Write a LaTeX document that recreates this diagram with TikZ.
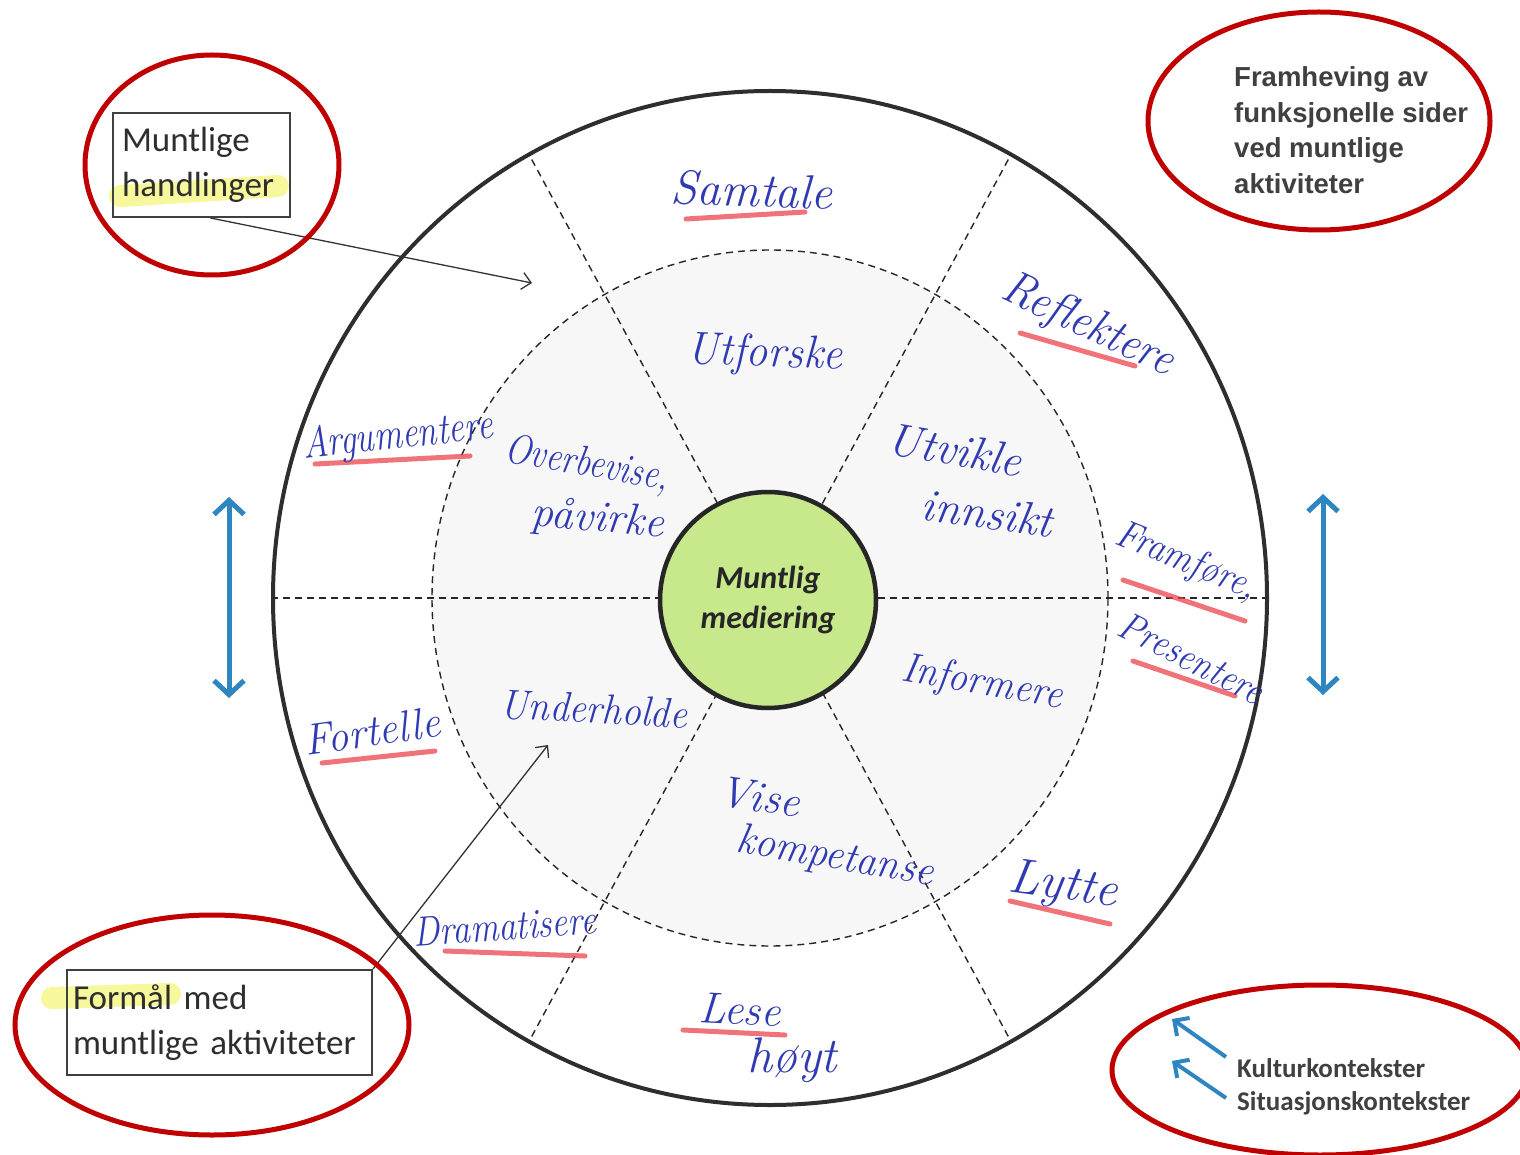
\documentclass[tikz,border=0pt]{standalone}
\usepackage{fontspec}
\newfontfamily\calib{Carlito}
\newfontfamily\arialf{Liberation Sans}
\usetikzlibrary{arrows.meta,calc}
\definecolor{ink}{RGB}{48,58,178}
\definecolor{redhl}{RGB}{236,62,72}
\definecolor{yelhl}{RGB}{242,242,90}
\definecolor{ringred}{RGB}{192,0,0}
\definecolor{arrblue}{RGB}{46,134,193}
\definecolor{txtgray}{RGB}{64,64,64}
\definecolor{midgreen}{RGB}{200,232,140}
\newcommand\hw[1]{\itshape\fontsize{#1}{#1}\selectfont}
\newcommand\sq[2]{\scalebox{#1}[1]{#2}}
\begin{document}
\begin{tikzpicture}[x=1pt,y=-1pt,
  outerring/.style={draw=black!82,line width=4pt},
  dashline/.style={draw=black!85,line width=1.4pt,dash pattern=on 7pt off 5pt},
  hand/.style={text=ink,inner sep=0pt},
  uline/.style={draw=redhl,line width=5pt,opacity=0.72,line cap=round},
  yline/.style={draw=yelhl,line width=22pt,opacity=0.6,line cap=round},
  ring/.style={draw=ringred,line width=5pt},
  box/.style={draw=black!75,line width=2pt,align=left,text=black!82,
    font=\calib\fontsize{35}{45}\selectfont,inner ysep=6pt},
  thinarrow/.style={draw=black!80,line width=1.3pt,-{Straight Barb[length=9pt,width=17pt]}},
  bluedbl/.style={draw=arrblue,line width=5pt,
    {Straight Barb[length=14pt,width=30pt]}-{Straight Barb[length=14pt,width=30pt]}},
  blueone/.style={draw=arrblue,line width=4pt,-{Straight Barb[length=11pt,width=22pt]}},
  ctxt/.style={text=txtgray,inner sep=0pt,anchor=west,font=\calib\bfseries\fontsize{27}{27}\selectfont},
  midc/.style={circle,draw=black!85,line width=4.5pt,fill=midgreen,minimum size=216pt,
    inner sep=0pt,align=center,text=black!85,
    font=\calib\bfseries\itshape\fontsize{32}{40}\selectfont}
]
\useasboundingbox[fill=white] (0,0) rectangle (1520,1155);
\coordinate (C) at (770,598);
% pencil shading of inner zone
\fill[black!3] (C) ellipse [x radius=338pt, y radius=348pt];
% outer ring and inner dashed ring
\draw[outerring] (C) ellipse [x radius=497pt, y radius=507pt];
\draw[dashline] (C) ellipse [x radius=338pt, y radius=348pt];
% radial dashed lines
\foreach \a in {0,61,119,180,241,299}
  \draw[dashline] ($(C)+(\a:108pt)$) -- ($(C)+(\a:497pt and 507pt)$);
% centre
\node[midc] (mid) at (768,600) {Muntlig\\mediering};

% red underlines (outer ring words)
\draw[uline] (686,219) -- (805,212);
\draw[uline] (1020,333) -- (1135,366);
\draw[uline] (315,464) -- (470,456);
\draw[uline] (1123,580) -- (1245,621);
\draw[uline] (1133,661) -- (1235,696);
\draw[uline] (322,763) -- (435,751);
\draw[uline] (1010,901) -- (1110,924);
\draw[uline] (445,951) -- (585,956);
\draw[uline] (683,1030) -- (785,1035);

% handwritten words - outer ring
\node[hand,font=\hw{48},rotate=-2] (samtale) at (752,190) {Samtale};
\node[hand,font=\hw{48},rotate=-25] (reflektere) at (1088,326) {\sq{0.92}{Reflektere}};
\node[hand,font=\hw{44},rotate=6] (argumentere) at (398,437) {\sq{0.8}{Argumentere}};
\node[hand,font=\hw{40},rotate=-22] (framfore) at (1186,562) {\sq{0.9}{Framføre,}};
\node[hand,font=\hw{40},rotate=-27] (presentere) at (1192,658) {\sq{0.88}{Presentere}};
\node[hand,font=\hw{44},rotate=8] (fortelle) at (372,731) {\sq{0.95}{Fortelle}};
\node[hand,font=\hw{50},rotate=-8] (lytte) at (1063,887) {Lytte};
\node[hand,font=\hw{42},rotate=4] (dramatisere) at (505,926) {\sq{0.84}{Dramatisere}};
\node[hand,font=\hw{44},rotate=-3] (lese) at (740,1010) {Lese};
\node[hand,font=\hw{50}] (hoyt) at (792,1060) {høyt};
% handwritten words - inner ring
\node[hand,font=\hw{46},rotate=-2] (utforske) at (765,355) {\sq{0.95}{Utforske}};
\node[hand,font=\hw{42},rotate=-10] (overbevise) at (587,465) {\sq{0.82}{Overbevise,}};
\node[hand,font=\hw{44},rotate=-5] (pavirke) at (598,520) {påvirke};
\node[hand,font=\hw{46},rotate=-10] (utvikle) at (955,450) {Utvikle};
\node[hand,font=\hw{46},rotate=-8] (innsikt) at (987,513) {innsikt};
\node[hand,font=\hw{42},rotate=-10] (informere) at (982,684) {\sq{0.92}{Informere}};
\node[hand,font=\hw{42},rotate=-3] (underholde) at (594,709) {\sq{0.92}{Underholde}};
\node[hand,font=\hw{44},rotate=-8] (vise) at (760,797) {Vise};
\node[hand,font=\hw{43},rotate=-10] (kompetanse) at (835,858) {\sq{0.95}{kompetanse}};

% top-left box
\draw[yline] (120,196) -- (278,186);
\node[box,inner xsep=9pt,text width=159pt,minimum width=177pt,minimum height=104pt]
  (box1) at (201.5,165) {Muntlige\\handlinger};
\coordinate (a1end) at (532,283);
\draw[thinarrow] ([xshift=9pt]box1.south) -- (a1end);
\draw[ring] (212,165) ellipse [x radius=127pt, y radius=110pt];

% bottom-left box
\draw[yline] (52,998) -- (170,994);
\node[box,inner xsep=6pt,text width=293pt,minimum width=305pt,minimum height=105pt]
  (box2) at (219.5,1022.5) {Formål med\\muntlige aktiviteter};
\coordinate (a2end) at (548,745);
\draw[thinarrow] (box2.north east) -- (a2end);
\draw[ring] (212,1025) ellipse [x radius=197pt, y radius=110pt];

% top-right
\node[text=txtgray,inner sep=0pt,anchor=west,align=left,
  font=\arialf\bfseries\fontsize{27.5}{35.5}\selectfont] (fram) at (1234,130)
  {Framheving av\\funksjonelle sider\\ved muntlige\\aktiviteter};
\draw[ring] (1319,121) ellipse [x radius=171pt, y radius=109pt];

% bottom-right
\node[ctxt] (kultur) at (1237,1068) {Kulturkontekster};
\node[ctxt] (situ) at (1237,1103) {Situasjonskontekster};
\coordinate (k1s) at (1226,1057); \coordinate (k1e) at (1172,1019);
\coordinate (k2s) at (1226,1098); \coordinate (k2e) at (1172,1061);
\draw[blueone] (k1s) -- (k1e);
\draw[blueone] (k2s) -- (k2e);
\draw[ring] (1320,1070) ellipse [x radius=208pt, y radius=85pt];

% blue double arrows
\coordinate (lt) at (229,497); \coordinate (lb) at (229,698);
\coordinate (rt) at (1323,494); \coordinate (rb) at (1323,695);
\draw[bluedbl] (lt) -- (lb);
\draw[bluedbl] (rt) -- (rb);
\end{tikzpicture}
\end{document}
